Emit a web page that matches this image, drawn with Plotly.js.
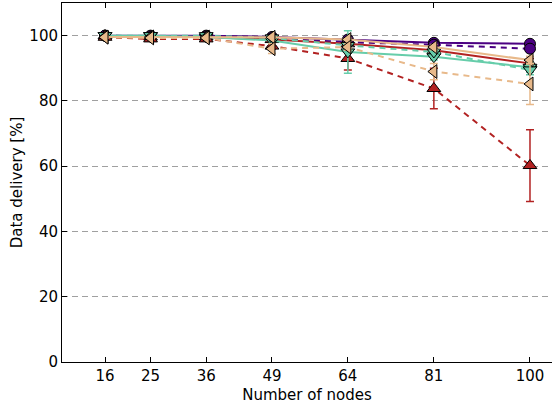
<!DOCTYPE html>
<html><head><meta charset="utf-8">
<script src="https://cdn.plot.ly/plotly-3.0.1.min.js"></script>
<style>html,body{margin:0;padding:0;background:#fff}#chart{width:552px;height:410px}</style>
</head><body><div id="chart"></div>
<script>
const nodes = [16, 25, 36, 49, 64, 81, 100];
const tickLabels = ['16', '25', '36', '49', '64', '81', '100'];

const purpleSolid = [100, 100, 100, 99.6, 98.8, 97.8, 97.5];
const purpleSolidErr = [0, 0, 0, 0.3, 0.5, 0.6, 0.6];
const purpleDashed = [100, 99.8, 99.8, 99.2, 98.0, 97.2, 96.0];
const purpleDashedErr = [0, 0.2, 0.2, 0.4, 0.6, 0.8, 1.0];
const redSolid = [100, 99.6, 99.6, 98.8, 97.5, 95.5, 91.5];
const redSolidErr = [0, 0.3, 0.3, 0.5, 0.8, 1.0, 1.5];
const redDashed = [99.5, 99.0, 99.0, 96.8, 93.0, 83.8, 60.2];
const redDashedErr = [0.3, 0.5, 0.5, 1.0, 3.5, 6.2, 11.0];
const turqSolid = [100, 100, 99.6, 98.5, 95.0, 93.5, 90.3];
const turqSolidErr = [0, 0, 0.3, 0.8, 6.5, 1.0, 1.5];
const turqDashed = [100, 100, 100, 99.3, 97.0, 95.0, 89.5];
const turqDashedErr = [0, 0, 0, 0.4, 0.8, 1.0, 1.5];
const tanSolid = [99.6, 99.6, 99.6, 99.5, 98.8, 96.5, 92.5];
const tanSolidErr = [0.2, 0.2, 0.2, 0.3, 0.5, 0.8, 1.2];
const tanDashed = [99.5, 99.3, 99.3, 96.0, 96.5, 89.0, 85.2];
const tanDashedErr = [0.3, 0.3, 0.3, 1.5, 1.0, 2.5, 6.3];

const PURPLE = '#4B0082', RED = '#B22222', TURQ = '#66CDAA', TAN = '#E8B98A';

function series(y, err, color, dash, symbol, size) {
  return {
    x: nodes, y: y, type: 'scatter', mode: 'lines+markers',
    line: {color: color, width: 2, dash: dash},
    marker: {symbol: symbol, size: size, color: color, line: {color: '#000', width: 1}},
    error_y: {type: 'data', array: err, visible: true, color: color, thickness: 1.5, width: 4},
    showlegend: false, cliponaxis: false
  };
}
const D = '6px,5px';
const data = [
  series(purpleSolid, purpleSolidErr, PURPLE, 'solid', 'circle', 11),
  series(purpleDashed, purpleDashedErr, PURPLE, D, 'circle', 11),
  series(redSolid, redSolidErr, RED, 'solid', 'triangle-up', 12),
  series(redDashed, redDashedErr, RED, D, 'triangle-up', 12),
  series(turqSolid, turqSolidErr, TURQ, 'solid', 'triangle-down', 12),
  series(turqDashed, turqDashedErr, TURQ, D, 'triangle-down', 12),
  series(tanSolid, tanSolidErr, TAN, 'solid', 'triangle-left', 12),
  series(tanDashed, tanDashedErr, TAN, D, 'triangle-left', 12)
];
const font = {family: 'DejaVu Sans', size: 15, color: '#000'};
const layout = {
  width: 552, height: 410,
  margin: {l: 62, r: 0, t: 3, b: 48},
  paper_bgcolor: '#fff', plot_bgcolor: '#fff',
  font: font,
  xaxis: {
    range: [7.5, 104.35], tickvals: nodes, ticktext: tickLabels,
    ticks: 'inside', ticklen: 5, tickwidth: 1, tickcolor: '#000',
    showline: true, linecolor: '#000', linewidth: 1, mirror: 'ticks',
    showgrid: false, zeroline: false, tickfont: font,
    title: {text: 'Number of nodes', font: font, standoff: 5}
  },
  yaxis: {
    range: [0, 110], tickvals: [0, 20, 40, 60, 80, 100],
    ticks: 'inside', ticklen: 5, tickwidth: 1, tickcolor: '#000',
    showline: true, linecolor: '#000', linewidth: 1,
    showgrid: true, gridcolor: '#a0a0a0', griddash: '6px,4px', gridwidth: 1,
    zeroline: false, tickfont: font,
    title: {text: 'Data delivery [%]', font: font, standoff: 3}
  }
};
Plotly.newPlot('chart', data, layout, {staticPlot: true});
</script></body></html>
